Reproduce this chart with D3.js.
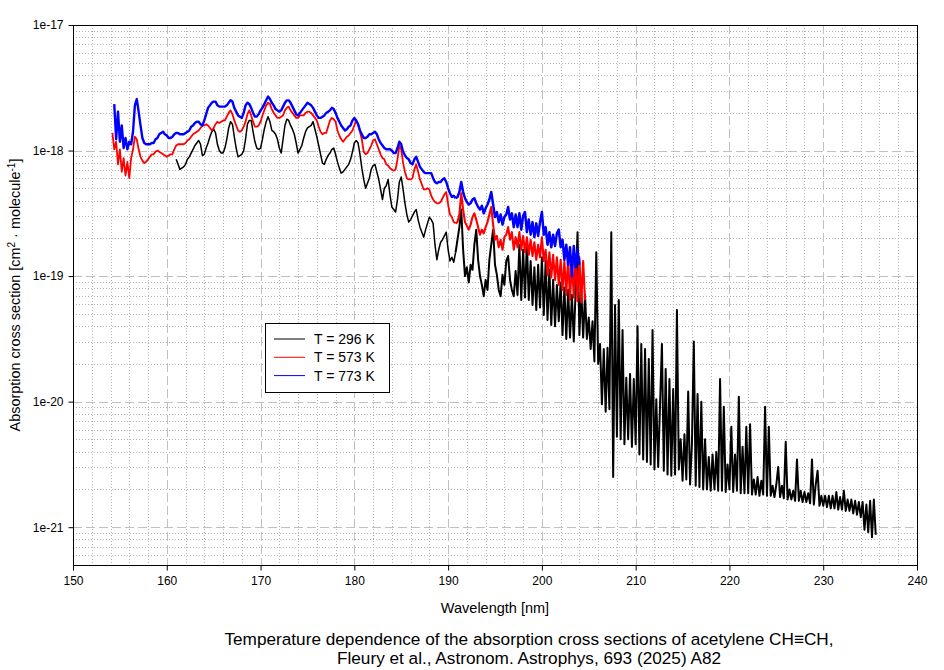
<!DOCTYPE html>
<html>
<head>
<meta charset="utf-8">
<script src="https://cdn.jsdelivr.net/npm/d3@7"></script>
<style>
  body { margin: 0; background: #ffffff; }
  svg text { font-family: "Liberation Sans", Arial, sans-serif; fill: #000; }
</style>
</head>
<body>
<script>
// datos (log10 de la seccion eficaz, cada 0.2 nm)
var step = 0.2;

var xTicks = [150, 160, 170, 180, 190, 200, 210, 220, 230, 240];
var yTicks = [1e-17, 1e-18, 1e-19, 1e-20, 1e-21];
var yTickLabels = ["1e-17", "1e-18", "1e-19", "1e-20", "1e-21"];

var seriesNames = ["T = 296 K", "T = 573 K", "T = 773 K"];
var seriesColors = ["#000000", "#ff0000", "#0000ff"];
var seriesStart = [161.0, 154.2, 154.4];

var log296 = [
  -18.07,-18.11,-18.15,-18.14,-18.13,
  -18.11,-18.07,-18.05,-18.02,-17.99,
  -17.96,-17.94,-17.92,-17.95,-18.04,
  -18.03,-17.98,-17.94,-17.89,-17.85,
  -17.83,-17.86,-17.95,-18.00,-18.02,
  -18.02,-17.98,-17.91,-17.82,-17.77,
  -17.79,-17.89,-17.98,-18.05,-18.04,
  -18.03,-18.00,-17.91,-17.79,-17.76,
  -17.76,-17.85,-17.93,-17.98,-17.99,
  -17.98,-17.91,-17.83,-17.77,-17.73,
  -17.77,-17.84,-17.85,-17.87,-17.91,
  -17.98,-18.02,-17.91,-17.80,-17.75,
  -17.76,-17.80,-17.83,-17.87,-17.94,
  -18.02,-17.99,-17.96,-17.90,-17.85,
  -17.82,-17.81,-17.80,-17.77,-17.83,
  -17.89,-17.96,-18.03,-18.10,-18.11,
  -18.07,-18.04,-18.02,-17.99,-17.98,
  -18.03,-18.09,-18.14,-18.18,-18.17,
  -18.15,-18.13,-18.11,-18.07,-18.01,
  -17.94,-17.92,-17.94,-18.03,-18.14,
  -18.23,-18.30,-18.26,-18.22,-18.15,
  -18.12,-18.11,-18.17,-18.23,-18.31,
  -18.39,-18.30,-18.28,-18.23,-18.35,
  -18.45,-18.47,-18.49,-18.39,-18.25,
  -18.21,-18.31,-18.42,-18.51,-18.57,
  -18.55,-18.52,-18.49,-18.47,-18.55,
  -18.61,-18.65,-18.69,-18.63,-18.58,
  -18.53,-18.55,-18.58,-18.75,-18.87,
  -18.79,-18.73,-18.71,-18.68,-18.65,
  -18.79,-18.88,-18.85,-18.89,-18.81,
  -18.71,-18.61,-18.47,-18.79,-19.00,
  -18.93,-19.05,-18.91,-18.95,-18.75,
  -18.63,-18.87,-19.00,-19.07,-19.16,
  -19.03,-19.11,-18.87,-18.75,-18.63,
  -18.91,-18.99,-19.11,-19.16,-18.99,
  -19.07,-18.88,-18.84,-19.03,-19.11,
  -19.16,-18.96,-19.15,-18.75,-19.19,
  -18.79,-19.17,-18.73,-19.19,-18.88,
  -19.23,-18.93,-19.27,-18.91,-19.25,
  -18.85,-19.31,-18.88,-19.35,-18.95,
  -19.39,-19.03,-19.40,-19.07,-19.36,
  -19.05,-19.47,-19.09,-19.50,-19.11,
  -19.49,-19.15,-19.52,-19.11,-18.65,
  -19.47,-19.11,-19.49,-19.15,-19.50,
  -19.33,-19.58,-19.36,-19.68,-18.81,
  -19.70,-19.54,-20.02,-19.58,-20.08,
  -19.57,-20.06,-18.65,-20.60,-19.23,
  -20.28,-19.19,-20.30,-19.43,-20.34,
  -19.81,-20.30,-19.78,-20.36,-19.82,
  -20.34,-19.40,-20.42,-19.54,-20.46,
  -19.58,-20.48,-19.66,-20.50,-19.43,
  -20.54,-19.98,-20.52,-20.02,-19.54,
  -20.55,-19.74,-20.58,-19.82,-20.59,
  -19.90,-20.58,-19.27,-20.54,-20.30,
  -20.63,-20.26,-20.62,-19.92,-20.66,
  -20.34,-19.52,-20.67,-19.94,-20.68,
  -20.00,-20.70,-20.30,-20.70,-20.44,
  -20.71,-20.42,-20.70,-20.40,-20.71,
  -19.82,-20.71,-20.04,-20.72,-20.50,
  -20.70,-20.20,-20.72,-20.42,-20.71,
  -19.96,-20.73,-20.36,-20.73,-20.20,
  -20.73,-20.18,-20.74,-20.62,-20.74,
  -20.60,-20.75,-20.63,-20.74,-20.04,
  -20.75,-20.20,-20.75,-20.67,-20.76,
  -20.66,-20.52,-20.76,-20.67,-20.77,
  -20.32,-20.78,-20.70,-20.78,-20.71,
  -20.79,-20.46,-20.79,-20.71,-20.80,
  -20.72,-20.80,-20.73,-20.81,-20.46,
  -20.82,-20.66,-20.55,-20.83,-20.75,
  -20.83,-20.75,-20.84,-20.75,-20.85,
  -20.75,-20.85,-20.72,-20.86,-20.76,
  -20.86,-20.71,-20.87,-20.78,-20.87,
  -20.78,-20.89,-20.79,-20.90,-20.80,
  -20.92,-20.80,-21.02,-20.82,-21.04,
  -20.79,-21.08,-20.78,-21.06
];

var log573 = [
  -17.86,-17.99,-17.93,-18.11,
  -17.99,-18.17,-18.06,-18.20,-18.09,
  -18.22,-18.06,-17.99,-17.89,-17.91,
  -17.99,-18.05,-18.08,-18.10,-18.09,
  -18.07,-18.05,-18.03,-18.03,-18.01,
  -18.00,-18.01,-18.02,-18.03,-18.04,
  -18.05,-18.04,-18.03,-18.03,-17.99,
  -17.96,-17.95,-17.95,-17.95,-17.95,
  -17.94,-17.92,-17.91,-17.89,-17.87,
  -17.86,-17.85,-17.84,-17.82,-17.80,
  -17.80,-17.79,-17.80,-17.82,-17.84,
  -17.82,-17.79,-17.77,-17.78,-17.77,
  -17.76,-17.76,-17.73,-17.70,-17.68,
  -17.71,-17.76,-17.80,-17.84,-17.85,
  -17.84,-17.81,-17.77,-17.71,-17.68,
  -17.72,-17.77,-17.81,-17.81,-17.80,
  -17.77,-17.72,-17.68,-17.64,-17.62,
  -17.63,-17.67,-17.70,-17.72,-17.74,
  -17.74,-17.73,-17.72,-17.68,-17.66,
  -17.65,-17.68,-17.70,-17.72,-17.74,
  -17.74,-17.72,-17.72,-17.72,-17.70,
  -17.69,-17.69,-17.70,-17.72,-17.74,
  -17.76,-17.81,-17.85,-17.87,-17.86,
  -17.86,-17.81,-17.76,-17.74,-17.75,
  -17.77,-17.84,-17.88,-17.91,-17.93,
  -17.91,-17.89,-17.88,-17.86,-17.84,
  -17.80,-17.76,-17.79,-17.85,-17.91,
  -18.01,-18.03,-18.02,-17.99,-17.96,
  -17.92,-17.91,-17.95,-17.99,-18.03,
  -18.06,-18.07,-18.11,-18.12,-18.14,
  -18.15,-18.16,-18.15,-18.07,-17.96,
  -17.99,-18.10,-18.17,-18.22,-18.23,
  -18.23,-18.22,-18.15,-18.11,-18.17,
  -18.23,-18.27,-18.31,-18.31,-18.30,
  -18.31,-18.36,-18.39,-18.41,-18.42,
  -18.42,-18.41,-18.38,-18.35,-18.33,
  -18.43,-18.51,-18.53,-18.57,-18.58,
  -18.57,-18.51,-18.34,-18.47,-18.57,
  -18.60,-18.63,-18.59,-18.53,-18.50,
  -18.55,-18.61,-18.67,-18.63,-18.66,
  -18.61,-18.57,-18.51,-18.45,-18.59,
  -18.71,-18.68,-18.77,-18.71,-18.79,
  -18.69,-18.67,-18.61,-18.71,-18.65,
  -18.79,-18.69,-18.77,-18.65,-18.79,
  -18.68,-18.81,-18.69,-18.83,-18.71,
  -18.84,-18.73,-18.87,-18.75,-18.85,
  -18.69,-18.88,-18.79,-18.99,-18.81,
  -19.01,-18.83,-19.03,-18.85,-19.07,
  -18.87,-19.11,-18.88,-19.15,-18.85,
  -19.19,-18.87,-19.17,-18.84,-19.20,
  -18.85,-19.21,-18.88,-19.19
];

var log773 = [
  -17.63,-17.91,-17.69,
  -17.93,-17.80,-17.98,-17.90,-17.99,
  -17.93,-17.95,-17.85,-17.64,-17.59,
  -17.69,-17.80,-17.90,-17.94,-17.95,
  -17.95,-17.95,-17.94,-17.94,-17.91,
  -17.90,-17.87,-17.86,-17.85,-17.87,
  -17.88,-17.90,-17.90,-17.89,-17.87,
  -17.86,-17.86,-17.87,-17.87,-17.87,
  -17.86,-17.85,-17.84,-17.81,-17.80,
  -17.78,-17.77,-17.77,-17.79,-17.80,
  -17.76,-17.71,-17.66,-17.64,-17.62,
  -17.61,-17.61,-17.64,-17.65,-17.65,
  -17.65,-17.65,-17.64,-17.62,-17.60,
  -17.61,-17.66,-17.69,-17.72,-17.73,
  -17.74,-17.70,-17.64,-17.62,-17.63,
  -17.66,-17.70,-17.73,-17.73,-17.71,
  -17.68,-17.66,-17.63,-17.60,-17.57,
  -17.59,-17.62,-17.64,-17.67,-17.68,
  -17.69,-17.68,-17.65,-17.62,-17.60,
  -17.60,-17.62,-17.65,-17.68,-17.71,
  -17.72,-17.70,-17.68,-17.66,-17.64,
  -17.62,-17.63,-17.64,-17.66,-17.69,
  -17.72,-17.74,-17.74,-17.73,-17.72,
  -17.70,-17.69,-17.68,-17.66,-17.67,
  -17.70,-17.74,-17.77,-17.80,-17.82,
  -17.84,-17.83,-17.81,-17.80,-17.76,
  -17.74,-17.76,-17.79,-17.84,-17.87,
  -17.90,-17.90,-17.89,-17.87,-17.87,
  -17.86,-17.85,-17.87,-17.91,-17.94,
  -17.96,-17.98,-17.99,-17.99,-17.99,
  -18.00,-18.02,-18.02,-17.98,-17.93,
  -17.95,-18.01,-18.04,-18.06,-18.07,
  -18.10,-18.11,-18.07,-18.05,-18.09,
  -18.13,-18.15,-18.17,-18.18,-18.18,
  -18.18,-18.18,-18.22,-18.25,-18.26,
  -18.25,-18.25,-18.23,-18.22,-18.25,
  -18.30,-18.34,-18.37,-18.36,-18.38,
  -18.37,-18.33,-18.25,-18.33,-18.38,
  -18.41,-18.43,-18.42,-18.39,-18.38,
  -18.42,-18.45,-18.47,-18.44,-18.50,
  -18.46,-18.43,-18.39,-18.33,-18.43,
  -18.53,-18.49,-18.57,-18.51,-18.59,
  -18.53,-18.51,-18.45,-18.55,-18.50,
  -18.61,-18.51,-18.61,-18.50,-18.63,
  -18.52,-18.49,-18.65,-18.55,-18.67,
  -18.57,-18.69,-18.58,-18.68,-18.57,
  -18.49,-18.67,-18.61,-18.75,-18.65,
  -18.77,-18.67,-18.76,-18.66,-18.63,
  -18.77,-18.71,-18.87,-18.75,-18.91,
  -18.77,-19.00,-18.76,-18.93,-18.79,
  -18.91
];

var seriesLogs = [log296, log573, log773];

// grosor del trazo: tramo suave y tramo ruidoso (a partir de noiseFrom nm)
var widthSmooth = [1.5, 1.8, 2.4];
var widthNoisy = [2.0, 2.1, 2.5];
var noiseFrom = 190.8;

// tamaño del contenedor y margenes
var width = 944;
var height = 670;
var margin = { top: 25, right: 27, bottom: 105, left: 73 };

var x = d3.scaleLinear()
    .domain([150, 240])
    .range([margin.left, width - margin.right]);

var y = d3.scaleLog()
    .domain([5e-22, 1e-17])
    .range([height - margin.bottom, margin.top]);

var svg = d3.select("body")
    .append("svg")
    .attr("width", width)
    .attr("height", height);

svg.append("rect")
    .attr("width", width)
    .attr("height", height)
    .attr("fill", "#ffffff");

var plotW = width - margin.left - margin.right;
var plotH = height - margin.top - margin.bottom;

svg.append("clipPath")
    .attr("id", "clip")
    .append("rect")
    .attr("x", margin.left)
    .attr("y", margin.top)
    .attr("width", plotW)
    .attr("height", plotH);

// rejilla menor (punteada)
var grid = svg.append("g");
var xMinor = d3.range(150, 241, 2).filter(function (d) { return d % 10 !== 0; });
var yMinor = y.ticks().filter(function (d) {
    return yTicks.indexOf(d) < 0 && d > 5.0001e-22;
});

grid.selectAll(".xminor")
    .data(xMinor)
    .join("line")
    .attr("x1", function (d) { return Math.round(x(d)) + 0.5; })
    .attr("x2", function (d) { return Math.round(x(d)) + 0.5; })
    .attr("y1", margin.top)
    .attr("y2", height - margin.bottom)
    .attr("stroke", "#b4b4b4")
    .attr("stroke-dasharray", "1,2");

grid.selectAll(".yminor")
    .data(yMinor)
    .join("line")
    .attr("x1", margin.left)
    .attr("x2", width - margin.right)
    .attr("y1", function (d) { return Math.round(y(d)) + 0.5; })
    .attr("y2", function (d) { return Math.round(y(d)) + 0.5; })
    .attr("stroke", "#b4b4b4")
    .attr("stroke-dasharray", "1,2");

// rejilla mayor (discontinua)
grid.selectAll(".xmajor")
    .data(xTicks.slice(1, -1))
    .join("line")
    .attr("x1", function (d) { return Math.round(x(d)) + 0.5; })
    .attr("x2", function (d) { return Math.round(x(d)) + 0.5; })
    .attr("y1", margin.top)
    .attr("y2", height - margin.bottom)
    .attr("stroke", "#c0c0c0")
    .attr("stroke-dasharray", "9,4");

grid.selectAll(".ymajor")
    .data(yTicks.slice(1))
    .join("line")
    .attr("x1", margin.left)
    .attr("x2", width - margin.right)
    .attr("y1", function (d) { return Math.round(y(d)) + 0.5; })
    .attr("y2", function (d) { return Math.round(y(d)) + 0.5; })
    .attr("stroke", "#c0c0c0")
    .attr("stroke-dasharray", "9,4");

// lineas de datos
var line = d3.line()
    .x(function (d) { return x(d[0]); })
    .y(function (d) { return y(d[1]); });

var plot = svg.append("g").attr("clip-path", "url(#clip)");

seriesLogs.forEach(function (logs, s) {
    var puntos = logs.map(function (v, i) {
        return [seriesStart[s] + i * step, Math.pow(10, v)];
    });
    var suave = puntos.filter(function (d) { return d[0] <= noiseFrom + 1e-6; });
    var ruido = puntos.filter(function (d) { return d[0] >= noiseFrom - 1e-6; });

    [[suave, widthSmooth[s]], [ruido, widthNoisy[s]]].forEach(function (tramo) {
        if (tramo[0].length < 2) return;
        plot.append("path")
            .datum(tramo[0])
            .attr("fill", "none")
            .attr("stroke", seriesColors[s])
            .attr("stroke-width", tramo[1])
            .attr("stroke-linejoin", "round")
            .attr("d", line);
    });
});

// marco
svg.append("rect")
    .attr("x", margin.left + 0.5)
    .attr("y", margin.top + 0.5)
    .attr("width", plotW)
    .attr("height", plotH)
    .attr("fill", "none")
    .attr("stroke", "#000")
    .attr("stroke-width", 1);

// ejes
var ejeX = d3.axisBottom(x)
    .tickValues(xTicks)
    .tickFormat(d3.format("d"))
    .tickSize(5)
    .tickSizeOuter(0)
    .tickPadding(6);

var gX = svg.append("g")
    .attr("transform", "translate(0," + (height - margin.bottom + 0.5) + ")")
    .call(ejeX);

var ejeY = d3.axisLeft(y)
    .tickValues(yTicks)
    .tickFormat(function (d, i) { return yTickLabels[i]; })
    .tickSize(5)
    .tickSizeOuter(0)
    .tickPadding(5);

var gY = svg.append("g")
    .attr("transform", "translate(" + (margin.left + 0.5) + ",0)")
    .call(ejeY);

[gX, gY].forEach(function (g) {
    g.select(".domain").remove();
    g.selectAll("line").attr("stroke", "#000");
    g.selectAll("text")
        .style("font-size", "12px")
        .style("font-family", "'Liberation Sans', Arial, sans-serif");
});

// titulos de ejes
svg.append("text")
    .attr("x", (margin.left + width - margin.right) / 2)
    .attr("y", 613)
    .attr("text-anchor", "middle")
    .style("font-size", "14.5px")
    .text("Wavelength [nm]");

var yLabel = svg.append("text")
    .attr("transform", "translate(20," + ((margin.top + height - margin.bottom) / 2) + ") rotate(-90)")
    .attr("text-anchor", "middle")
    .style("font-size", "14.4px");
yLabel.append("tspan").text("Absorption cross section [cm");
yLabel.append("tspan").attr("dy", -5).style("font-size", "10px").text("2");
yLabel.append("tspan").attr("dy", 5).text(" \u00b7 molecule");
yLabel.append("tspan").attr("dy", -5).style("font-size", "10px").text("-1");
yLabel.append("tspan").attr("dy", 5).text("]");

// titulo inferior
svg.append("text")
    .attr("x", 529)
    .attr("y", 645)
    .attr("text-anchor", "middle")
    .style("font-size", "17.2px")
    .text("Temperature dependence of the absorption cross sections of acetylene CH\u2261CH,");

svg.append("text")
    .attr("x", 529)
    .attr("y", 664)
    .attr("text-anchor", "middle")
    .style("font-size", "17.2px")
    .text("Fleury et al., Astronom. Astrophys, 693 (2025) A82");

// leyenda
var leyenda = svg.append("g").attr("transform", "translate(265,323)");
leyenda.append("rect")
    .attr("x", 0.5)
    .attr("y", 0.5)
    .attr("width", 124)
    .attr("height", 69)
    .attr("fill", "#ffffff")
    .attr("stroke", "#000");

seriesNames.forEach(function (nombre, i) {
    var ly = 16 + i * 18.3;
    leyenda.append("line")
        .attr("x1", 9)
        .attr("x2", 40)
        .attr("y1", ly)
        .attr("y2", ly)
        .attr("stroke", seriesColors[i])
        .attr("stroke-width", 1);
    leyenda.append("text")
        .attr("x", 49)
        .attr("y", ly + 5)
        .style("font-size", "14px")
        .text(nombre);
});
</script>
</body>
</html>
